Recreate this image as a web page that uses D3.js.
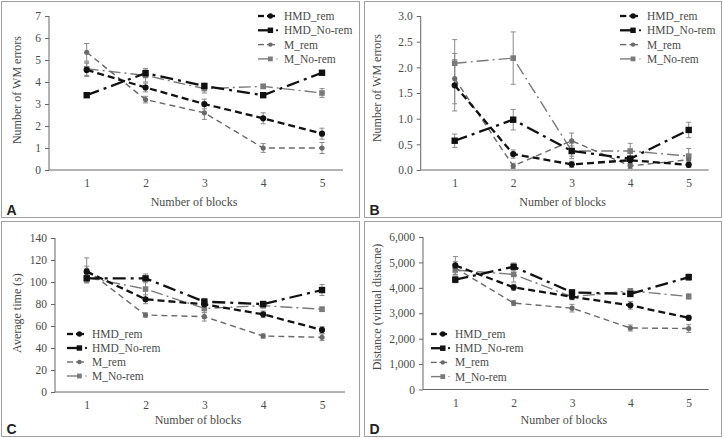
<!DOCTYPE html>
<html><head><meta charset="utf-8">
<script src="https://cdn.jsdelivr.net/npm/d3@7"></script>
<style>body{margin:0;background:#fff}svg{display:block}</style>
</head><body>
<script>
const blocks = [1, 2, 3, 4, 5];
const seriesNames = ["HMD_rem", "HMD_No-rem", "M_rem", "M_No-rem"];

// Panel A: Number of WM errors
const A_HMD_rem = [4.55, 3.75, 3.0, 2.35, 1.65];
const A_HMD_norem = [3.4, 4.4, 3.82, 3.4, 4.42];
const A_M_rem = [5.35, 3.2, 2.6, 1.0, 1.0];
const A_M_norem = [4.6, 4.3, 3.7, 3.8, 3.5];
const A_err_HMD_rem = [0.3, 0.2, 0.22, 0.25, 0.25];
const A_err_HMD_norem = [0.08, 0.2, 0.12, 0.1, 0.1];
const A_err_M_rem = [0.4, 0.15, 0.3, 0.2, 0.25];
const A_err_M_norem = [0.3, 0.3, 0.2, 0.1, 0.2];
const A_ticks = [0, 1, 2, 3, 4, 5, 6, 7];

// Panel B: Number of WM errors
const B_HMD_rem = [1.65, 0.31, 0.11, 0.19, 0.1];
const B_HMD_norem = [0.57, 0.98, 0.37, 0.22, 0.78];
const B_M_rem = [1.78, 0.08, 0.57, 0.08, 0.2];
const B_M_norem = [2.08, 2.18, 0.37, 0.37, 0.27];
const B_err_HMD_rem = [0.5, 0.08, 0.06, 0.08, 0.05];
const B_err_HMD_norem = [0.13, 0.2, 0.1, 0.1, 0.15];
const B_err_M_rem = [0.49, 0.05, 0.15, 0.05, 0.1];
const B_err_M_norem = [0.46, 0.51, 0.15, 0.15, 0.15];
const B_ticks = [0, 0.5, 1.0, 1.5, 2.0, 2.5, 3.0];

// Panel C: Average time (s)
const C_HMD_rem = [109.4, 84.3, 79.7, 70.6, 56.4];
const C_HMD_norem = [103.3, 103.3, 82.1, 80, 92.7];
const C_M_rem = [110.9, 70, 68.5, 50.9, 49.7];
const C_M_norem = [104.2, 93.6, 76, 78.5, 75.2];
const C_err_HMD_rem = [5, 4, 3, 3, 3];
const C_err_HMD_norem = [4, 4, 3, 2, 5];
const C_err_M_rem = [11, 2, 4, 2, 3];
const C_err_M_norem = [5, 8, 4, 2, 2];
const C_ticks = [0, 20, 40, 60, 80, 100, 120, 140];

// Panel D: Distance (virtual distacne)
const D_HMD_rem = [4880, 4020, 3650, 3310, 2820];
const D_HMD_norem = [4320, 4830, 3820, 3760, 4420];
const D_M_rem = [4780, 3400, 3200, 2420, 2400];
const D_M_norem = [4700, 4530, 3650, 3880, 3660];
const D_err_HMD_rem = [350, 120, 100, 150, 100];
const D_err_HMD_norem = [120, 150, 100, 100, 120];
const D_err_M_rem = [250, 100, 150, 120, 150];
const D_err_M_norem = [200, 300, 120, 80, 100];
const D_ticks = [0, 1000, 2000, 3000, 4000, 5000, 6000];

const styles = {
  "HMD_rem":    {color: "#111", width: 2.3, dash: "7,4", marker: "circle", size: 3.1},
  "HMD_No-rem": {color: "#111", width: 2.3, dash: "13,5,3,5", marker: "square", size: 6.4},
  "M_rem":      {color: "#6a6a6a", width: 1.4, dash: "6,4", marker: "circle", size: 2.6},
  "M_No-rem":   {color: "#7a7a7a", width: 1.4, dash: "12,4,2,4", marker: "square", size: 5.6}
};

const panels = [
  {letter: "A", box: [1.5, 1.5, 358, 216], ax: 49, axEnd: 343, p1: 86.7, p5: 322, yTop: 16, yBot: 170,
   dom: [0, 7], ticks: A_ticks, fmt: d3.format("d"), ylabel: "Number of WM errors", ylx: 17, yly: 90, xly: 206,
   data: [A_HMD_rem, A_HMD_norem, A_M_rem, A_M_norem], err: [A_err_HMD_rem, A_err_HMD_norem, A_err_M_rem, A_err_M_norem],
   leg: {x1: 258, x2: 278, tx: 284, y: 16, dy: 14.3}},
  {letter: "B", box: [364.5, 1.5, 357, 216], ax: 420.7, axEnd: 708.7, p1: 454.7, p5: 688.7, yTop: 16, yBot: 170,
   dom: [0, 3], ticks: B_ticks, fmt: d3.format(".1f"), ylabel: "Number of WM errors", ylx: 377, yly: 88, xly: 206,
   data: [B_HMD_rem, B_HMD_norem, B_M_rem, B_M_norem], err: [B_err_HMD_rem, B_err_HMD_norem, B_err_M_rem, B_err_M_norem],
   leg: {x1: 620, x2: 641, tx: 647, y: 16, dy: 14.3}},
  {letter: "C", box: [1.5, 221.5, 358, 215], ax: 55, axEnd: 345, p1: 86.7, p5: 322, yTop: 238, yBot: 392,
   dom: [0, 140], ticks: C_ticks, fmt: d3.format("d"), ylabel: "Average time (s)", ylx: 17, yly: 313, xly: 424,
   data: [C_HMD_rem, C_HMD_norem, C_M_rem, C_M_norem], err: [C_err_HMD_rem, C_err_HMD_norem, C_err_M_rem, C_err_M_norem],
   leg: {x1: 67, x2: 87, tx: 92, y: 334, dy: 14}},
  {letter: "D", box: [364.5, 221.5, 357, 215], ax: 423, axEnd: 708.7, p1: 455.3, p5: 688.7, yTop: 237, yBot: 389.5,
   dom: [0, 6000], ticks: D_ticks, fmt: d3.format(","), ylabel: "Distance (virtual distacne)", ylx: 377, yly: 307, xly: 424,
   data: [D_HMD_rem, D_HMD_norem, D_M_rem, D_M_norem], err: [D_err_HMD_rem, D_err_HMD_norem, D_err_M_rem, D_err_M_norem],
   leg: {x1: 431, x2: 450, tx: 455, y: 334, dy: 14.2}}
];

const svg = d3.select("body").append("svg").attr("width", 724).attr("height", 438);
const serif = "'Liberation Serif', 'DejaVu Serif', serif";
const textCol = "#4a4a4a";

function drawMarker(g, st, x, y, scale) {
  const s = st.size * (scale || 1);
  if (st.marker === "circle") {
    g.append("circle").attr("cx", x).attr("cy", y).attr("r", s).attr("fill", st.color);
  } else {
    g.append("rect").attr("x", x - s / 2).attr("y", y - s / 2)
      .attr("width", s).attr("height", s).attr("fill", st.color);
  }
}

panels.forEach(p => {
  const g = svg.append("g");
  g.append("rect").attr("x", p.box[0]).attr("y", p.box[1]).attr("width", p.box[2]).attr("height", p.box[3])
    .attr("fill", "none").attr("stroke", "#a0a0a0").attr("stroke-width", 1);

  const x = d3.scalePoint().domain(blocks).range([p.p1, p.p5]);
  const y = d3.scaleLinear().domain(p.dom).range([p.yBot, p.yTop]);

  // y axis
  const yAx = g.append("g").attr("transform", `translate(${p.ax},0)`)
    .call(d3.axisLeft(y).tickValues(p.ticks).tickFormat(p.fmt).tickSize(4).tickPadding(4));
  yAx.select(".domain").attr("stroke", "#666").attr("d", `M-0,${p.yTop}V${p.yBot}`);
  yAx.selectAll(".tick line").attr("stroke", "#666");
  yAx.selectAll("text").attr("font-family", serif).attr("font-size", 11.5).attr("fill", textCol);

  // x axis
  const xAx = g.append("g").attr("transform", `translate(0,${p.yBot})`)
    .call(d3.axisBottom(x).tickSize(0).tickPadding(9));
  xAx.select(".domain").attr("stroke", "#666").attr("d", `M${p.ax},0H${p.axEnd}`);
  xAx.selectAll("text").attr("font-family", serif).attr("font-size", 11.5).attr("fill", textCol);

  // labels
  g.append("text").attr("x", (p.ax + p.axEnd) / 2 - 2).attr("y", p.xly).attr("text-anchor", "middle")
    .attr("font-family", serif).attr("font-size", 12).attr("fill", textCol).text("Number of blocks");
  g.append("text").attr("transform", `translate(${p.ylx},${p.yly}) rotate(-90)`).attr("text-anchor", "middle")
    .attr("dominant-baseline", "central")
    .attr("font-family", serif).attr("font-size", 12).attr("fill", textCol).text(p.ylabel);
  g.append("text").attr("x", p.box[0] + 5).attr("y", p.box[1] + p.box[3] - 3)
    .attr("font-family", "'Liberation Sans', Arial, sans-serif").attr("font-weight", "bold").attr("font-size", 14)
    .attr("fill", "#222").text(p.letter);

  // error bars
  const order = [3, 2, 1, 0];
  order.forEach(i => {
    const vals = p.data[i], errs = p.err[i];
    blocks.forEach((b, j) => {
      const cx = x(b), lo = y(vals[j] - errs[j]), hi = y(vals[j] + errs[j]);
      g.append("line").attr("x1", cx).attr("x2", cx).attr("y1", lo).attr("y2", hi)
        .attr("stroke", "#8a8a8a").attr("stroke-width", 1);
      [lo, hi].forEach(yy => g.append("line").attr("x1", cx - 2.5).attr("x2", cx + 2.5).attr("y1", yy).attr("y2", yy)
        .attr("stroke", "#8a8a8a").attr("stroke-width", 1));
    });
  });

  // lines
  order.forEach(i => {
    const st = styles[seriesNames[i]];
    const line = d3.line().x((d, j) => x(blocks[j])).y(d => y(d));
    g.append("path").datum(p.data[i]).attr("d", line).attr("fill", "none")
      .attr("stroke", st.color).attr("stroke-width", st.width).attr("stroke-dasharray", st.dash);
  });
  order.forEach(i => {
    const st = styles[seriesNames[i]];
    p.data[i].forEach((v, j) => drawMarker(g, st, x(blocks[j]), y(v)));
  });

  // legend
  seriesNames.forEach((name, i) => {
    const st = styles[name];
    const ly = p.leg.y + i * p.leg.dy;
    const L = p.leg.x2 - p.leg.x1;
    const mx = p.leg.x1 + L * 0.62;
    if (st.marker === "circle") {
      g.append("line").attr("x1", p.leg.x1).attr("x2", p.leg.x1 + L * 0.3).attr("y1", ly).attr("y2", ly)
        .attr("stroke", st.color).attr("stroke-width", st.width);
      g.append("line").attr("x1", p.leg.x1 + L * 0.45).attr("x2", p.leg.x2 - 3).attr("y1", ly).attr("y2", ly)
        .attr("stroke", st.color).attr("stroke-width", st.width);
    } else {
      g.append("line").attr("x1", p.leg.x1).attr("x2", mx).attr("y1", ly).attr("y2", ly)
        .attr("stroke", st.color).attr("stroke-width", st.width);
      g.append("circle").attr("cx", p.leg.x2 - 1).attr("cy", ly).attr("r", st.width * 0.5).attr("fill", st.color);
    }
    drawMarker(g, st, mx, ly, 0.85);
    g.append("text").attr("x", p.leg.tx).attr("y", ly).attr("dominant-baseline", "central")
      .attr("font-family", serif).attr("font-size", 11.5).attr("fill", textCol).text(name);
  });
});
</script>
</body></html>
